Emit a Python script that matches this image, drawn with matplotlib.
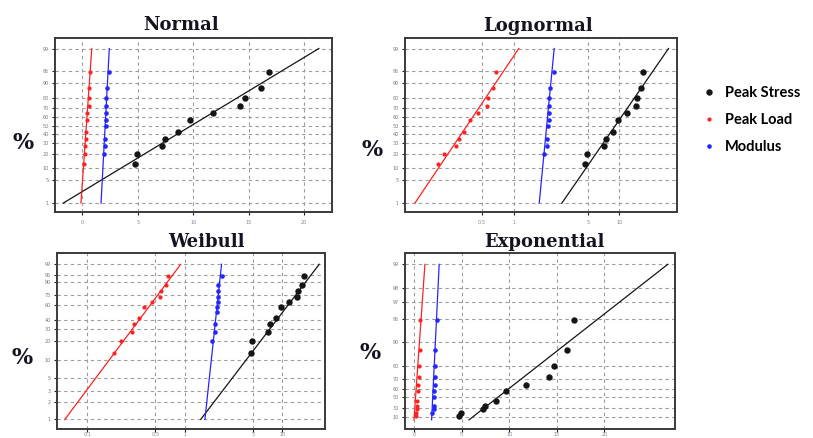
import numpy as np
import matplotlib
matplotlib.use("Agg")
import matplotlib.pyplot as plt
from matplotlib.ticker import FixedLocator, FixedFormatter, NullLocator
from matplotlib.font_manager import FontProperties
from statistics import NormalDist

# measured data (value, plotting position in %)
series = ["Peak Stress", "Peak Load", "Modulus"]
stress_vals = [4.75, 4.9, 7.2, 7.45, 8.6, 9.7, 11.8, 14.2, 14.65, 16.1, 16.85]
stress_pct = [12.7, 20.1, 27.6, 35.1, 42.5, 57.5, 64.9, 72.4, 79.9, 87.3, 94.8]
load_vals = [0.19, 0.22, 0.285, 0.30, 0.34, 0.38, 0.46, 0.56, 0.57, 0.64, 0.67]
load_pct = [12.7, 20.1, 27.6, 35.1, 42.5, 57.5, 64.9, 72.4, 79.9, 87.3, 94.8]
modulus_vals = [1.92, 2.06, 2.06, 2.12, 2.14, 2.17, 2.17, 2.17, 2.21, 2.41]
modulus_pct = [20.1, 27.6, 35.1, 50.0, 57.5, 64.9, 72.4, 79.9, 87.3, 94.8]

# fitted parameters per distribution, order: stress, load, modulus
normal_fit = [(9.8, 4.95), (0.365, 0.21), (2.06, 0.16)]          # mean, sd
lognormal_fit = [(2.21, 0.50), (-1.026, 0.487), (0.716, 0.070)]  # mu, sigma (ln)
weibull_fit = [(2.19, 11.9), (2.24, 0.459), (15.6, 2.16)]        # shape, scale
expon_fit = [(5.73, 4.54), (0.0, 0.25), (1.85, 0.173)]           # threshold, scale

pct_ticks_norm = [1, 5, 10, 20, 30, 40, 50, 60, 70, 80, 90, 95, 99]
pct_ticks_weib = [1, 2, 3, 5, 10, 20, 30, 40, 60, 75, 90, 95, 99]
pct_ticks_expo = [10, 30, 50, 60, 70, 80, 90, 95, 97, 98, 99]

colors = ["#151515", "#ff2020", "#2525ff"]
msizes = [4.6, 3.0, 3.3]

_nd = NormalDist()
_ppf = np.vectorize(lambda p: _nd.inv_cdf(min(max(p, 1e-12), 1 - 1e-12)), otypes=[float])
_cdf = np.vectorize(_nd.cdf, otypes=[float])


def norm_fwd(p):
    return _ppf(np.asarray(p, float) / 100.0)


def norm_inv(z):
    return _cdf(np.asarray(z, float)) * 100.0


def weib_fwd(p):
    p = np.clip(np.asarray(p, float) / 100.0, 1e-12, 1 - 1e-12)
    return np.log(-np.log(1 - p))


def weib_inv(w):
    return 100.0 * (1 - np.exp(-np.exp(np.asarray(w, float))))


def expo_fwd(p):
    p = np.minimum(np.asarray(p, float) / 100.0, 1 - 1e-12)
    return -np.log(1 - p)


def expo_inv(q):
    return 100.0 * (1 - np.exp(-np.asarray(q, float)))


# quantile functions used for the fitted lines
def q_normal(par, p):
    return par[0] + par[1] * norm_fwd(p)


def q_lognormal(par, p):
    return np.exp(par[0] + par[1] * norm_fwd(p))


def q_weibull(par, p):
    return par[1] * (-np.log(1 - p / 100.0)) ** (1.0 / par[0])


def q_expon(par, p):
    return par[0] + par[1] * (-np.log(1 - p / 100.0))


fig = plt.figure(figsize=(8.13, 4.38), dpi=100)
W, H = 813.0, 438.0


def make_axes(l, t, r, b):
    return fig.add_axes([l / W, 1 - b / H, (r - l) / W, (b - t) / H])


def style_panel(ax, fwd, inv, ylim, yticks, xlim, xticks, xlabels, xlog=False, xpad=3.5):
    if xlog:
        ax.set_xscale("log")
    ax.set_yscale("function", functions=(fwd, inv))
    ax.set_xlim(*xlim)
    ax.set_ylim(*ylim)
    ax.yaxis.set_major_locator(FixedLocator(yticks))
    ax.yaxis.set_major_formatter(FixedFormatter([str(t) for t in yticks]))
    ax.yaxis.set_minor_locator(NullLocator())
    ax.xaxis.set_major_locator(FixedLocator(xticks))
    ax.xaxis.set_major_formatter(FixedFormatter(xlabels))
    ax.xaxis.set_minor_locator(NullLocator())
    ax.grid(True, color="#9c9c9c", ls=(0, (3, 3)), lw=0.8)
    ax.set_axisbelow(True)
    for s in ax.spines.values():
        s.set_linewidth(1.4)
        s.set_color("#3a3a3a")
    ax.tick_params(axis="y", length=2.5, width=0.8, pad=2, labelsize=3.5,
                   labelcolor="#7a7a7a", color="#222")
    ax.tick_params(axis="x", length=2.2, width=0.8, pad=xpad, labelsize=3.6,
                   labelcolor="#7a8a9a", color="#222")


def draw_series(ax, qfunc, fits):
    p_line = np.linspace(1, 99, 80)
    handles = []
    data = [(stress_vals, stress_pct), (load_vals, load_pct), (modulus_vals, modulus_pct)]
    for i, (vals, pct) in enumerate(data):
        ax.plot(qfunc(fits[i], p_line), p_line, color=colors[i], lw=0.9, zorder=2)
        h, = ax.plot(vals, pct, "o", color=colors[i], ms=msizes[i], mec="none", zorder=3)
        handles.append(h)
    return handles


# Normal
ax1 = make_axes(55, 38, 332, 212)
handles = draw_series(ax1, q_normal, normal_fit)
style_panel(ax1, norm_fwd, norm_inv, (0.473, 99.589), pct_ticks_norm,
            (-2.46, 22.5), [0, 5, 10, 15, 20], ["0", "5", "10", "15", "20"])

# Lognormal
ax2 = make_axes(405, 38, 677, 212)
draw_series(ax2, q_lognormal, lognormal_fit)
style_panel(ax2, norm_fwd, norm_inv, (0.473, 99.589), pct_ticks_norm,
            (0.093, 35.1), [0.5, 1, 5, 10], ["0.5", "1", "5", "10"], xlog=True)

# Weibull
ax3 = make_axes(57, 253, 325, 429)
draw_series(ax3, q_weibull, weibull_fit)
style_panel(ax3, weib_fwd, weib_inv, (0.685, 99.925), pct_ticks_weib,
            (0.0489, 27.4), [0.1, 0.5, 1, 5, 10], ["0.1", "0.5", "1", "5", "10"],
            xlog=True, xpad=0.2)

# Exponential
ax4 = make_axes(405, 253, 675, 429)
draw_series(ax4, q_expon, expon_fit)
style_panel(ax4, expo_fwd, expo_inv, (-29.7, 99.285), pct_ticks_expo,
            (-0.94, 27.4), [0, 5, 10, 15, 20], ["0", "5", "10", "15", "20"], xpad=0.2)

# panel titles and "%" labels
title_font = dict(family="DejaVu Serif", weight="bold", size=13, color="#141420")
for x, y, s in [(181, 25, "Normal"), (538, 26, "Lognormal"),
                (206, 242, "Weibull"), (544, 242, "Exponential")]:
    fig.text(x / W, 1 - y / H, s, ha="center", va="center", **title_font)
for x, y in [(23, 143), (372, 150), (22, 358), (370, 353)]:
    fig.text(x / W, 1 - y / H, "%", ha="center", va="center",
             family="DejaVu Serif", weight="bold", size=16, color="#141420")

fig.legend(handles, series, loc="center left", bbox_to_anchor=(697 / W, 1 - 120 / H),
           frameon=False, prop=FontProperties(family="Lato", weight="bold", size=10.5),
           handlelength=0.6, handletextpad=0.8, labelspacing=0.9, borderpad=0)

fig.savefig("out.png", dpi=100)
